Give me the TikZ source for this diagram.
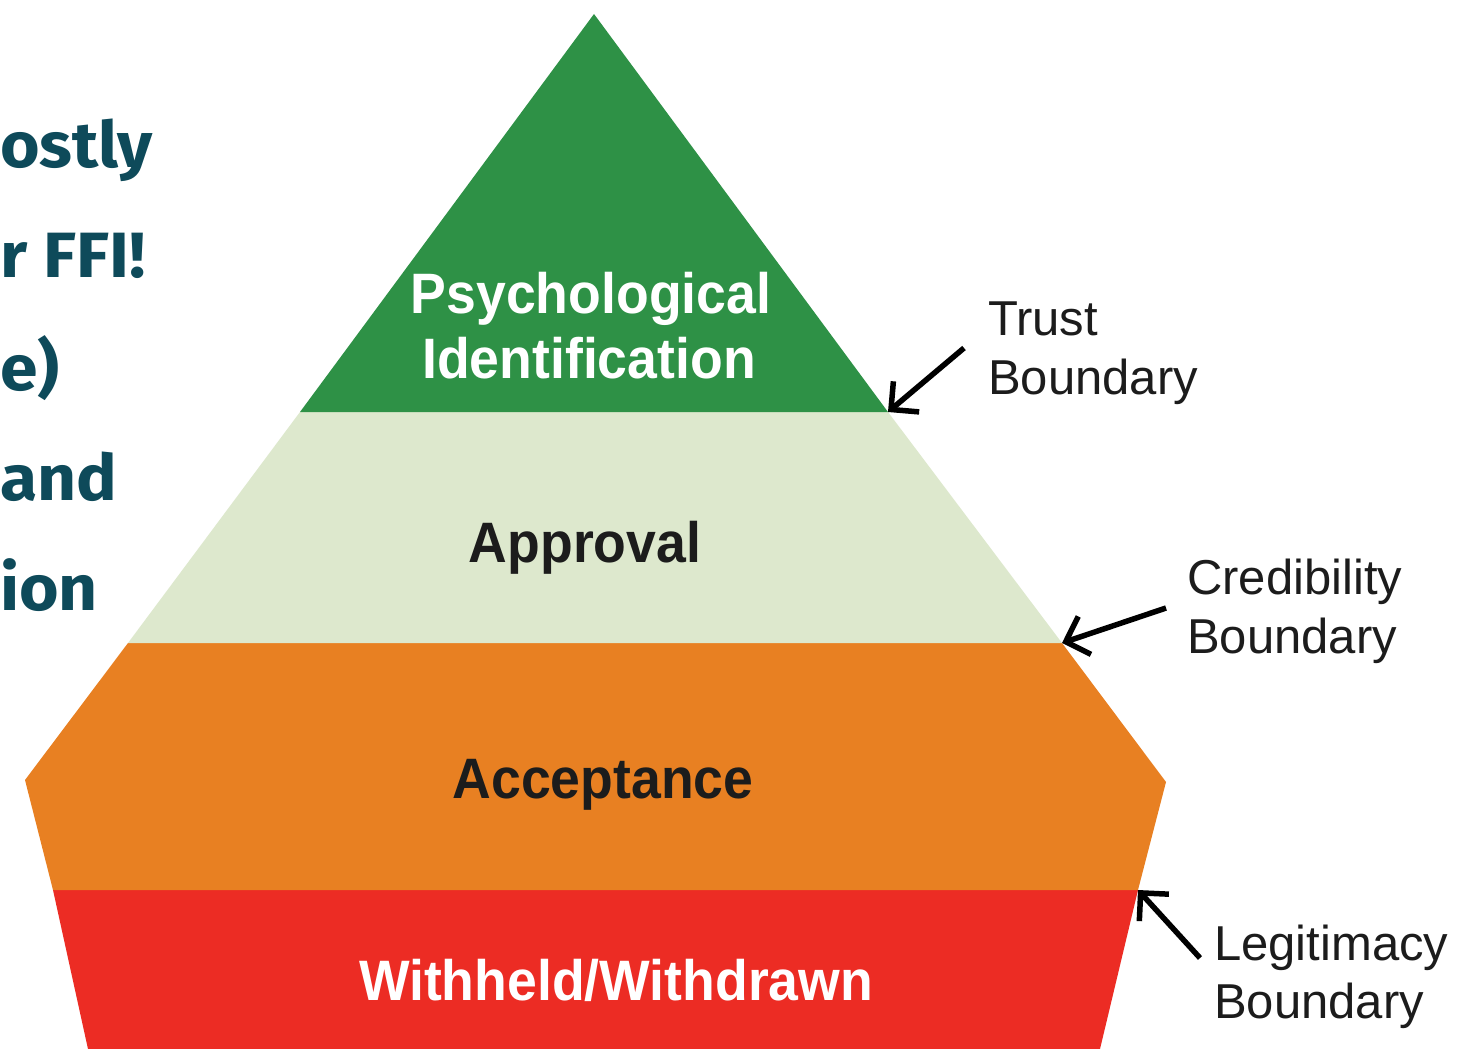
\documentclass[tikz,border=0pt]{standalone}
\usepackage{fontspec}
\setmainfont{Liberation Sans}
\newfontfamily\tierfont{Liberation Sans}[FakeStretch=0.94]
\newfontfamily\leftfont{Fira Sans}[FakeStretch=1.06]
\usetikzlibrary{arrows.meta}
\definecolor{topgreen}{RGB}{46,145,70}
\definecolor{palegreen}{RGB}{221,232,205}
\definecolor{orangelayer}{RGB}{232,128,34}
\definecolor{redlayer}{RGB}{236,44,36}
\definecolor{tealtext}{RGB}{14,74,90}
\definecolor{labeltext}{RGB}{28,28,28}
\begin{document}
\begin{tikzpicture}[x=1pt,y=-1pt,
  tiertext/.style={font=\tierfont\fontsize{57}{62}\selectfont\bfseries, inner sep=0pt, anchor=base},
  sidetext/.style={font=\fontsize{49}{58}\selectfont, text=labeltext, inner sep=0pt, anchor=base west},
  lefttext/.style={font=\leftfont\fontsize{64}{70}\selectfont\bfseries, text=tealtext, inner sep=0pt, anchor=base west},
  pointer/.style={line width=5.5pt, black, -{Straight Barb[length=20pt,width=40pt]}}
]
\useasboundingbox (0,0) rectangle (1459,1049);
\fill[white] (0,0) rectangle (1459,1049);

% corners
\coordinate (apex) at (594,14);
\coordinate (gL) at (300,412);
\coordinate (gR) at (888,412);
\coordinate (aL) at (128,643);
\coordinate (aR) at (1062,643);
\coordinate (oLm) at (25,780);
\coordinate (oRm) at (1166,782);
\coordinate (oL) at (53,890);
\coordinate (oR) at (1138,890);
\coordinate (rL) at (88,1049);
\coordinate (rR) at (1100,1049);

% layers
\fill[redlayer] (oL) -- (oR) -- (rR) -- (rL) -- cycle;
\fill[orangelayer] (aL) -- (aR) -- (oRm) -- (oR) -- (oL) -- (oLm) -- cycle;
\fill[palegreen] (gL) -- (gR) -- (aR) -- (aL) -- cycle;
\fill[topgreen] (apex) -- (gR) -- (gL) -- cycle;

% tier labels
\node[tiertext, text=white] (psy) at (591,313) {Psychological};
\node[tiertext, text=white] (ident) at (589,378) {Identification};
\node[tiertext, text=labeltext] (appr) at (585,562) {Approval};
\node[tiertext, text=labeltext] (acc) at (603,798) {Acceptance};
\node[tiertext, text=white] (with) at (616,1000) {Withheld/Withdrawn};

% side labels
\node[sidetext] (trust1) at (988,335) {Trust};
\node[sidetext] (trust2) at (988,394) {Boundary};
\node[sidetext] (cred1) at (1187,594) {Credibility};
\node[sidetext] (cred2) at (1187,653) {Boundary};
\node[sidetext] (legit1) at (1214,960) {Legitimacy};
\node[sidetext] (legit2) at (1214,1018) {Boundary};

% arrows
\coordinate (trustTail) at (964,348);
\coordinate (credTail) at (1166,608);
\coordinate (legitTail) at (1200,958);
\draw[pointer] (trustTail) -- (gR);
\draw[pointer] (credTail) -- (aR);
\draw[pointer] (legitTail) -- (oR);

% left text fragments (as printed)
\node[lefttext] (l1) at (0,167) {ostly};
\node[lefttext] (l2) at (0,277) {r FFI!};
\node[lefttext] (l3) at (0,390) {e)};
\node[lefttext] (l4) at (0,500) {and};
\node[lefttext] (l5) at (0,610) {ion};
\end{tikzpicture}
\end{document}
